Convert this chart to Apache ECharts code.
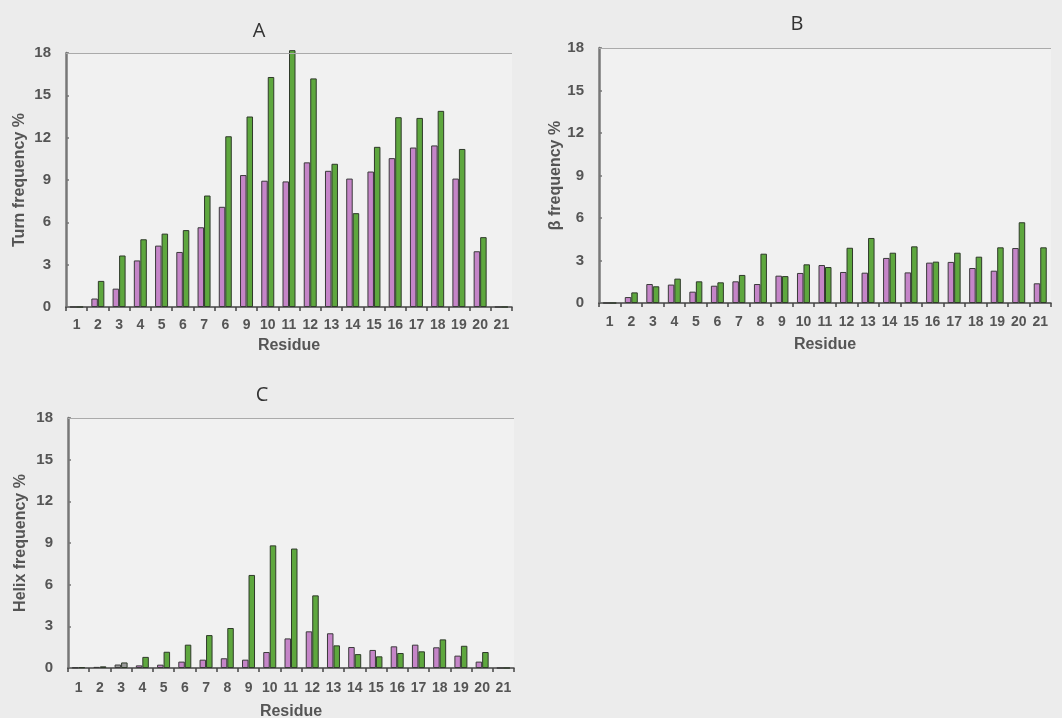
<!DOCTYPE html>
<html>
<head>
<meta charset="utf-8">
<script src="https://cdn.jsdelivr.net/npm/echarts@6/dist/echarts.min.js"></script>
<style>
html,body{margin:0;padding:0;background:#ececec;}
#c{width:1062px;height:718px;}
</style>
</head>
<body>
<div id="c"></div>
<script>
const residues = ['1','2','3','4','5','6','7','8','9','10','11','12','13','14','15','16','17','18','19','20','21'];
// panel A prints "6" at the eighth position in the original figure
const residueLabelsA = ['1','2','3','4','5','6','7','6','9','10','11','12','13','14','15','16','17','18','19','20','21'];
const yTicks = [0,3,6,9,12,15,18];

const turnPurple = [0,0.6,1.3,3.3,4.35,3.9,5.65,7.1,9.35,8.95,8.9,10.25,9.65,9.1,9.6,10.55,11.3,11.45,9.1,3.95,0];
const turnGreen  = [0,1.85,3.65,4.8,5.2,5.45,7.9,12.1,13.5,16.3,18.2,16.2,10.15,6.65,11.35,13.45,13.4,13.9,11.2,4.95,0];

const betaPurple = [0,0.42,1.34,1.3,0.8,1.22,1.53,1.34,1.93,2.12,2.68,2.19,2.14,3.18,2.16,2.85,2.9,2.47,2.28,3.88,1.39];
const betaGreen  = [0,0.75,1.18,1.72,1.53,1.46,1.98,3.48,1.9,2.73,2.54,3.9,4.59,3.55,4.0,2.92,3.55,3.27,3.93,5.7,3.93];

const helixPurple = [0.03,0.08,0.25,0.19,0.24,0.46,0.6,0.7,0.6,1.15,2.13,2.64,2.5,1.51,1.3,1.56,1.68,1.49,0.89,0.46,0];
const helixGreen  = [0.05,0.12,0.4,0.8,1.17,1.68,2.37,2.88,6.7,8.83,8.6,5.23,1.63,1.0,0.84,1.08,1.2,2.06,1.6,1.15,0];

const panels = [
  {title:'A', yName:'Turn frequency %', labels:residueLabelsA, purple:turnPurple, green:turnGreen, grid:{left:66, top:53, width:446, height:254}, titlePos:{left:254, top:16}, lblMargin:11, nameGap:31, yNameGap:38, grayFirst:0},
  {title:'B', yName:'β frequency %', labels:residues, purple:betaPurple, green:betaGreen, grid:{left:599, top:48, width:452, height:255}, titlePos:{left:792, top:9}, lblMargin:12, nameGap:34, yNameGap:35, grayFirst:0},
  {title:'C', yName:'Helix frequency %', labels:residues, purple:helixPurple, green:helixGreen, grid:{left:68, top:418, width:446, height:250}, titlePos:{left:257, top:380}, lblMargin:13, nameGap:36, yNameGap:39, grayFirst:3}
];

const PURPLE = '#c585c8';
const GREEN = '#5ea73e';
const GRAY = '#9a9a9a';
const labelFont = {fontFamily:'Liberation Sans, Arial, sans-serif', fontSize:14, color:'#555', fontWeight:'bold'};
const nameFont = {fontFamily:'Liberation Sans, Arial, sans-serif', fontSize:16, color:'#555', fontWeight:'bold'};

const option = {
  backgroundColor:'#ececec',
  animation:false,
  title: panels.map(p => ({
    text:p.title, left:p.titlePos.left, top:p.titlePos.top, textAlign:'center',
    textStyle:{fontFamily:'Open Sans, Lato, sans-serif', fontSize:20, fontWeight:'normal', color:'#333'}
  })),
  grid: panels.map(p => Object.assign({containLabel:false, outerBoundsMode:'none', show:true, backgroundColor:'#f1f1f1', borderWidth:0}, p.grid)),
  xAxis: panels.map((p,i) => ({
    type:'category', gridIndex:i, data:p.labels,
    name:'Residue', nameLocation:'middle', nameGap:p.nameGap,
    nameTextStyle:nameFont,
    axisLine:{lineStyle:{color:'#444', width:1.5}},
    axisTick:{show:true, length:4, lineStyle:{color:'#444', width:1.5}},
    axisLabel:Object.assign({margin:p.lblMargin, interval:0}, labelFont),
    splitLine:{show:false}
  })),
  yAxis: panels.map((p,i) => ({
    type:'value', gridIndex:i, min:0, max:18, interval:3,
    name:p.yName, nameLocation:'middle', nameGap:p.yNameGap, nameRotate:90,
    nameTextStyle:nameFont,
    axisLine:{show:true, lineStyle:{color:'#777', width:2.5}},
    axisTick:{show:true, inside:true, length:3, lineStyle:{color:'#777', width:1.5}},
    axisLabel:Object.assign({margin:15, formatter:v => yTicks.indexOf(v) >= 0 ? String(v) : ''}, labelFont, {fontSize:15}),
    splitLine:{show:false}
  })),
  series: []
};

panels.forEach((p,i) => {
  const g = p.grayFirst;
  option.series.push({
    type:'bar', xAxisIndex:i, yAxisIndex:i, data:p.purple, barWidth:6.5, barGap:'0%', clip:false,
    itemStyle:{color: prm => prm.dataIndex < g ? GRAY : PURPLE, borderColor: '#3a3a3a', borderWidth:1},
    markLine:{silent:true, symbol:'none', label:{show:false}, lineStyle:{color:'#aaa', width:1, type:'solid'}, data:[{yAxis:18}]}
  });
  option.series.push({
    type:'bar', xAxisIndex:i, yAxisIndex:i, data:p.green, barWidth:6.5, barGap:'0%', clip:false,
    itemStyle:{color: prm => prm.dataIndex < g ? GRAY : GREEN, borderColor:'#2f3a2a', borderWidth:1}
  });
});

const chart = echarts.init(document.getElementById('c'), null, {renderer:'canvas'});
chart.setOption(option);
</script>
</body>
</html>
